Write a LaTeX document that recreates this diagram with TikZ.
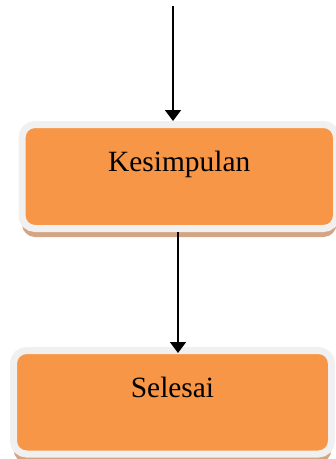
\documentclass[tikz,border=0pt]{standalone}
\usepackage{fontspec}
\setmainfont{Liberation Serif}
\usetikzlibrary{arrows.meta,shadows}

\definecolor{boxorange}{HTML}{F79646}
\definecolor{boxrim}{HTML}{F0F0F0}
\definecolor{boxshade}{HTML}{D4A585}

\begin{document}
\begin{tikzpicture}[x=1pt,y=-1pt,
                    stepbox/.style={rectangle,rounded corners=13pt,fill=boxorange,draw=boxrim,line width=7pt,
                                    drop shadow={shadow xshift=0pt,shadow yshift=-8.5pt,fill=boxshade,opacity=1},
                                    font=\fontsize{29.4}{35}\selectfont,text height=20pt,text depth=30pt},
                    flow/.style={line width=1.6pt,-{Triangle[length=11pt,width=16pt]}}
]
\useasboundingbox (0,0) rectangle (336,459);

\node [stepbox, minimum width=314.5pt, minimum height=104pt] at (179.25,176.5) (kesimpulan) {Kesimpulan};
\node [stepbox, minimum width=318pt, minimum height=103.5pt] at (172.5,402.25) (selesai) {Selesai};
%
\coordinate (start) at (173,6);
\coordinate (mid) at (178,0);
\draw [flow] (start) -- (start |- kesimpulan.north);
\draw [flow, shorten >=-6pt] (mid |- kesimpulan.south) -- (mid |- selesai.north);
\end{tikzpicture}
\end{document}
